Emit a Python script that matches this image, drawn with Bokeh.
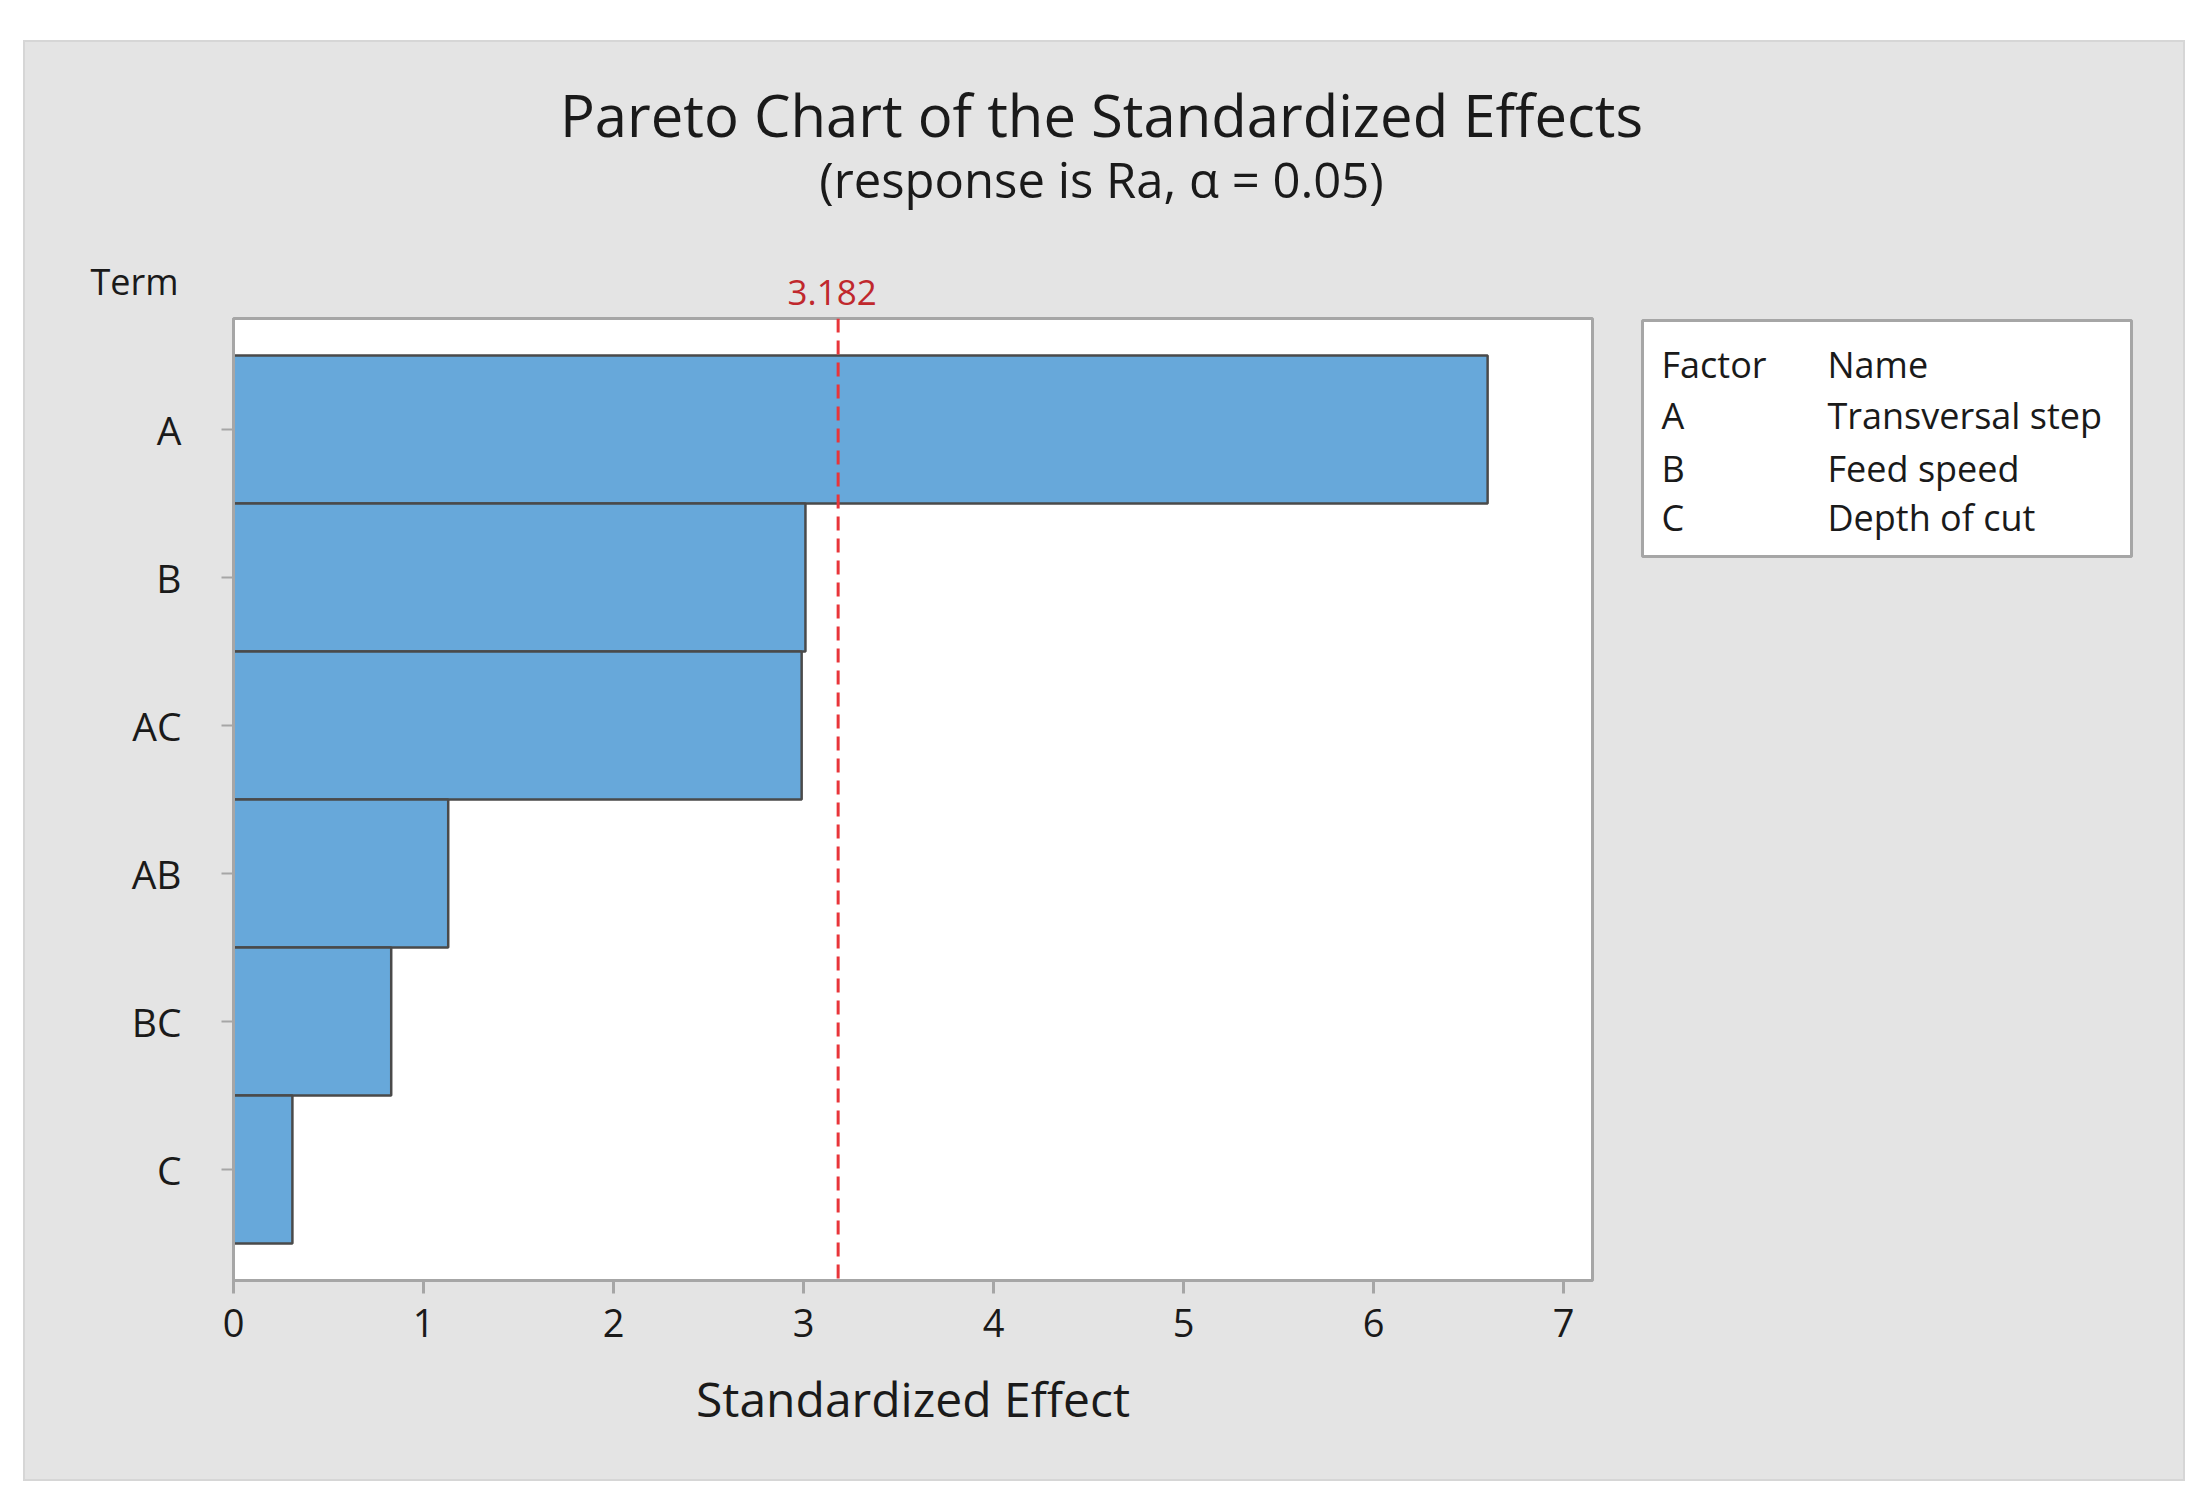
from bokeh.plotting import figure
from bokeh.layouts import column, row
from bokeh.models import FactorRange, Range1d, FixedTicker, Span, Label
from bokeh.embed import file_html
from bokeh.resources import INLINE

# ---- data ----
terms = ["A", "B", "AC", "AB", "BC", "C"]
effects = [6.60, 3.01, 2.99, 1.13, 0.83, 0.31]
critical = 3.182
x_ticks = [0, 1, 2, 3, 4, 5, 6, 7]
x_max = 7.152
legend_factors = ["A", "B", "C"]
legend_names = ["Transversal step", "Feed speed", "Depth of cut"]
title_text = "Pareto Chart of the Standardized Effects"
subtitle_text = "(response is Ra, \u03b1 = 0.05)"

# ---- style / layout constants ----
FONT = "Open Sans"
TXT = "#1a1a1a"
GRAY_BG = "#e4e4e4"
FRAME = "#a6a6a6"
BASE = 0.39          # baseline correction factor (fraction of font size)

W = 2158            # gray area width
TOP_H = 274         # header band height
ROW_H = 1163        # chart row height
MAIN_W = 1595
LEG_W = W - MAIN_W
BL, BR, BT, BB = 208, 28, 2, 199   # main figure borders
FRAME_W = MAIN_W - BL - BR
FRAME_H = ROW_H - BT - BB
SCALE = FRAME_W / x_max            # px per unit

# ---- main chart ----
p = figure(
    width=MAIN_W, height=ROW_H,
    y_range=FactorRange(factors=list(reversed(terms)), range_padding=0.0833),
    x_range=Range1d(0, x_max),
    output_backend="svg", toolbar_location=None,
    min_border_left=BL, min_border_right=BR,
    min_border_top=BT, min_border_bottom=BB,
    background_fill_color="white",
    border_fill_color=GRAY_BG,
    outline_line_color=FRAME, outline_line_width=3,
)

p.hbar(y=terms, right=effects, left=0, height=1.0,
       fill_color="#67a8da", line_color="#4a4a4a", line_width=2.5)

p.add_layout(Span(location=critical, dimension="height",
                  line_color="#e8353a", line_dash="14 8", line_width=3))

p.grid.visible = False

xa = p.xaxis[0]
xa.ticker = FixedTicker(ticks=x_ticks)
xa.axis_label = "Standardized Effect"
xa.axis_label_text_font = FONT
xa.axis_label_text_font_size = "48px"
xa.axis_label_text_font_style = "normal"
xa.axis_label_text_color = TXT
xa.axis_label_standoff = 26
xa.major_label_text_font = FONT
xa.major_label_text_font_size = "38px"
xa.major_label_text_color = TXT
xa.major_label_standoff = 15
xa.axis_line_color = FRAME
xa.axis_line_width = 3
xa.major_tick_line_color = FRAME
xa.major_tick_line_width = 3
xa.major_tick_out = 13
xa.major_tick_in = 0
xa.minor_tick_line_color = None

ya = p.yaxis[0]
ya.major_label_text_font = FONT
ya.major_label_text_font_size = "39px"
ya.major_label_text_color = TXT
ya.major_label_standoff = 40
ya.axis_line_color = FRAME
ya.axis_line_width = 3
ya.major_tick_line_color = FRAME
ya.major_tick_line_width = 2
ya.major_tick_out = 12
ya.major_tick_in = 0
ya.minor_tick_line_color = None

# ---- header band (shares the chart's x scale) ----
t = figure(
    width=W, height=TOP_H,
    x_range=Range1d(-BL / SCALE, (W - BL) / SCALE),
    y_range=Range1d(TOP_H, 0),
    x_axis_type=None, y_axis_type=None,
    output_backend="svg", toolbar_location=None,
    min_border=0, min_border_left=0, min_border_right=0,
    min_border_top=0, min_border_bottom=0,
    background_fill_color=GRAY_BG, border_fill_color=GRAY_BG,
    outline_line_color=None,
)
t.grid.visible = False


def hdr(x, y, text, size, units="screen", align="center", color=TXT, xoff=0):
    t.add_layout(Label(x=x, y=y - BASE * size, x_units=units, y_units="data",
                       x_offset=xoff, text=text, text_align=align,
                       text_baseline="alphabetic", text_font=FONT,
                       text_font_size=f"{size}px", text_color=color))


hdr(1076, 95, title_text, 58)
hdr(1076, 156, subtitle_text, 49)
hdr(153, 253, "Term", 36, align="right")
hdr(critical, 264, f"{critical:.3f}", 35, units="data", color="#c0282d", xoff=-6)

# ---- factor table (right) ----
r = figure(
    width=LEG_W, height=ROW_H,
    x_range=Range1d(0, LEG_W), y_range=Range1d(FRAME_H, 0),
    x_axis_type=None, y_axis_type=None,
    output_backend="svg", toolbar_location=None,
    min_border_left=0, min_border_right=0,
    min_border_top=BT, min_border_bottom=BB,
    background_fill_color=GRAY_BG, border_fill_color=GRAY_BG,
    outline_line_color=None,
)
r.grid.visible = False
r.quad(left=[22], right=[511], top=[2], bottom=[238],
       fill_color="white", line_color=FRAME, line_width=3)
LEG_FS = 36
rows_y = [60, 111, 164, 213]
col1 = ["Factor"] + legend_factors
col2 = ["Name"] + legend_names
for yy, a, b in zip(rows_y, col1, col2):
    r.add_layout(Label(x=41, y=yy - BASE * LEG_FS, text=a, text_baseline="alphabetic",
                       text_font=FONT, text_font_size=f"{LEG_FS}px", text_color=TXT))
    r.add_layout(Label(x=207, y=yy - BASE * LEG_FS, text=b, text_baseline="alphabetic",
                       text_font=FONT, text_font_size=f"{LEG_FS}px", text_color=TXT))

bg = {"background-color": GRAY_BG}
outer = {"background-color": GRAY_BG, "box-shadow": "0 0 0 2px #d6d6d6"}
layout = column(t, row(p, r, spacing=0, styles=bg), spacing=0,
                margin=(42, 0, 0, 25), styles=outer)
open("out.html", "w").write(file_html(layout, INLINE))
